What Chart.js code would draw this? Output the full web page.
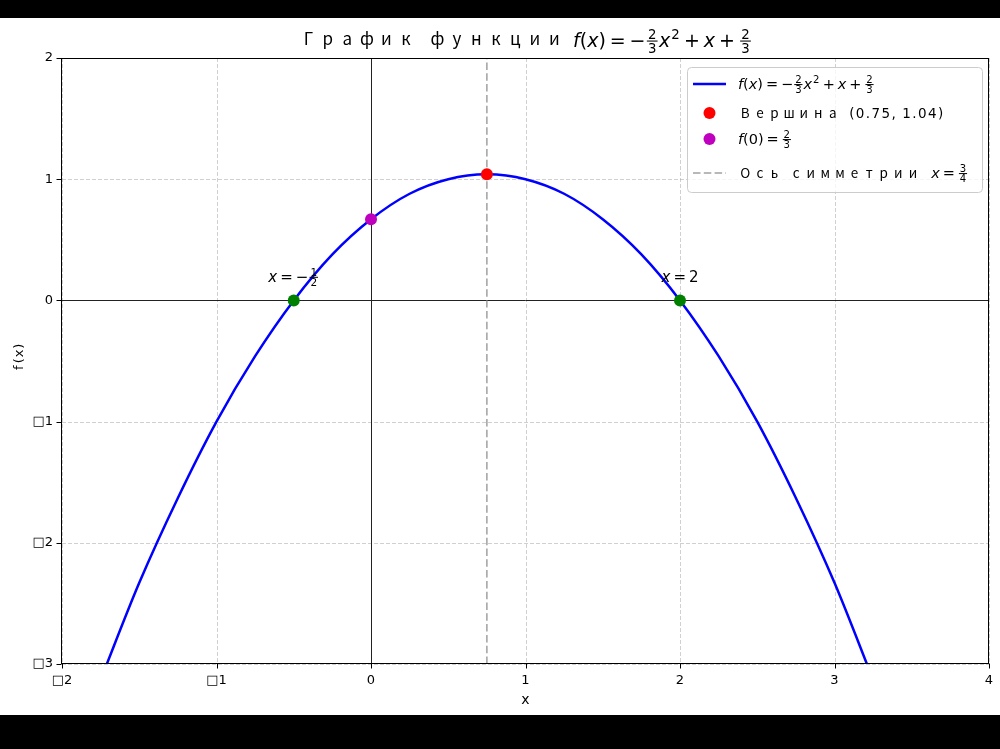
<!DOCTYPE html>
<html>
<head>
<meta charset="utf-8">
<script src="https://cdn.jsdelivr.net/npm/chart.js@4"></script>
<style>
    html, body { margin: 0; padding: 0; background: #000; }
    #wrap { position: absolute; left: 0; top: 18px; width: 1000px; height: 697px; background: #fff; }
</style>
</head>
<body>
<div id="wrap"><canvas id="chart" width="1000" height="697"></canvas></div>
<script>
// Values
const curveX = [-1.75, -1.5, -1.25, -1, -0.75, -0.5, -0.25, 0, 0.25, 0.5, 0.75, 1, 1.25, 1.5, 1.75, 2, 2.25, 2.5, 2.75, 3, 3.25];
const curveY = [-3.13, -2.33, -1.63, -1.0, -0.46, 0.0, 0.38, 0.67, 0.88, 1.0, 1.04, 1.0, 0.88, 0.67, 0.38, 0.0, -0.46, -1.0, -1.63, -2.33, -3.13];
const vertexX = [0.75];
const vertexY = [1.04];
const interceptX = [0];
const interceptY = [0.67];
const rootX = [-0.5, 2];
const rootY = [0, 0];
const symmetryX = [0.75, 0.75];
const symmetryY = [-3, 2];

const xTicks = [-2, -1, 0, 1, 2, 3, 4];
const xTickLabels = ['□2', '□1', '0', '1', '2', '3', '4'];
const yTicks = [-3, -2, -1, 0, 1, 2];
const yTickLabels = ['□3', '□2', '□1', '0', '1', '2'];

const titleText = 'График функции';
const vertexLabel = 'Вершина';
const vertexCoords = '(0.75, 1.04)';
const symmetryLabel = 'Ось симметрии';

const MATH_FONT = '"DejaVu Sans"';
const CJK_FONT = '"Noto Sans CJK SC"';
const GRID_COLOR = 'rgba(170,170,170,0.55)';
const SYM_COLOR = 'rgba(128,128,128,0.75)';

const toPoints = (xs, ys) => xs.map((x, i) => ({ x: x, y: ys[i] }));

// small mathtext-like renderer: text, italic, fractions, superscripts, gaps
function mathRun(ctx, tokens, x, y, size, draw) {
    let cx = x;
    tokens.forEach(tk => {
        if (tk.gap) { cx += tk.gap * size; return; }
        if (tk.frac) {
            const fs = size * 0.7;
            ctx.font = `${fs}px ${MATH_FONT}`;
            const wn = ctx.measureText(tk.frac[0]).width;
            const wd = ctx.measureText(tk.frac[1]).width;
            const pad = size * 0.08;
            const w = Math.max(wn, wd) + size * 0.12;
            if (draw) {
                const barY = y - size * 0.31;
                ctx.fillText(tk.frac[0], cx + pad + (w - wn) / 2, barY - size * 0.09);
                ctx.fillText(tk.frac[1], cx + pad + (w - wd) / 2, barY + size * 0.09 + fs * 0.73);
                ctx.fillRect(cx + pad, barY - size * 0.03, w, Math.max(1, size * 0.055));
            }
            cx += w + 2 * pad;
            return;
        }
        if (tk.sup) {
            const fs = size * 0.7;
            ctx.font = `${fs}px ${MATH_FONT}`;
            if (draw) ctx.fillText(tk.sup, cx + size * 0.05, y - size * 0.42);
            cx += ctx.measureText(tk.sup).width + size * 0.08;
            return;
        }
        ctx.font = `${tk.it ? 'italic ' : ''}${size}px ${MATH_FONT}`;
        if (draw) ctx.fillText(tk.t, cx, y);
        cx += ctx.measureText(tk.t).width;
    });
    return cx - x;
}

// Cyrillic drawn in full-width cells, the way the reference font lays it out
function spacedRun(ctx, str, x, y, cell, space, size, extra, draw) {
    let cx = x;
    for (const ch of str) {
        if (ch === ' ') { cx += space; continue; }
        if (/[\u0400-\u04FF]/.test(ch)) {
            ctx.font = `${size}px ${CJK_FONT}`;
            const w = ctx.measureText(ch).width;
            if (draw) ctx.fillText(ch, cx + (cell - w) / 2, y);
            cx += cell;
        } else {
            ctx.font = `${size}px ${MATH_FONT}`;
            if (draw) ctx.fillText(ch, cx, y);
            cx += ctx.measureText(ch).width + extra;
        }
    }
    return cx - x;
}

const OP = 0.2;
const fTokens = [
    { t: 'f', it: true }, { t: '(' }, { t: 'x', it: true }, { t: ')' },
    { gap: OP }, { t: '=' }, { gap: OP }, { t: '−' },
    { frac: ['2', '3'] }, { t: 'x', it: true }, { sup: '2' },
    { gap: OP }, { t: '+' }, { gap: OP }, { t: 'x', it: true },
    { gap: OP }, { t: '+' }, { gap: OP }, { frac: ['2', '3'] }
];
const f0Tokens = [
    { t: 'f', it: true }, { t: '(' }, { t: '0' }, { t: ')' },
    { gap: OP }, { t: '=' }, { gap: OP }, { frac: ['2', '3'] }
];
const symTokens = [{ t: 'x', it: true }, { gap: OP }, { t: '=' }, { gap: OP }, { frac: ['3', '4'] }];
const rootTokens = [
    [{ t: 'x', it: true }, { gap: OP }, { t: '=' }, { gap: OP }, { t: '−' }, { frac: ['1', '2'] }],
    [{ t: 'x', it: true }, { gap: OP }, { t: '=' }, { gap: OP }, { t: '2' }]
];

const decorPlugin = {
    id: 'decor',
    beforeDatasetsDraw(chart) {
        const { ctx, chartArea: a, scales: { x, y } } = chart;
        const px = v => Math.round(x.getPixelForValue(v)) + 0.5;
        const py = v => Math.round(y.getPixelForValue(v)) + 0.5;
        ctx.save();
        // dashed grid
        ctx.strokeStyle = GRID_COLOR;
        ctx.lineWidth = 1;
        ctx.setLineDash([4, 2]);
        ctx.beginPath();
        xTicks.forEach(v => { ctx.moveTo(px(v), a.top); ctx.lineTo(px(v), a.bottom); });
        yTicks.forEach(v => { ctx.moveTo(a.left, py(v)); ctx.lineTo(a.right, py(v)); });
        ctx.stroke();
        // x = 0 and y = 0 lines
        ctx.setLineDash([]);
        ctx.strokeStyle = '#222';
        ctx.beginPath();
        ctx.moveTo(px(0), a.top); ctx.lineTo(px(0), a.bottom);
        ctx.moveTo(a.left, py(0)); ctx.lineTo(a.right, py(0));
        ctx.stroke();
        ctx.restore();
    },
    afterDraw(chart) {
        const { ctx, chartArea: a, scales: { x, y } } = chart;
        const px = v => Math.round(x.getPixelForValue(v)) + 0.5;
        const py = v => Math.round(y.getPixelForValue(v)) + 0.5;
        ctx.save();

        // frame and tick marks
        ctx.strokeStyle = '#000';
        ctx.lineWidth = 1;
        const L = Math.round(a.left) - 0.5, R = Math.round(a.right) - 0.5;
        const T = Math.round(a.top) + 0.5, B = Math.round(a.bottom) - 0.5;
        ctx.strokeRect(L, T, R - L, B - T);
        ctx.beginPath();
        xTicks.forEach(v => { ctx.moveTo(px(v), B); ctx.lineTo(px(v), B + 5); });
        yTicks.forEach(v => { ctx.moveTo(L, py(v)); ctx.lineTo(L - 5, py(v)); });
        ctx.stroke();

        ctx.fillStyle = '#000';
        ctx.textBaseline = 'alphabetic';
        ctx.textAlign = 'left';

        // title
        const titleCell = 19.5, titleGap = 9;
        const wCyr = spacedRun(ctx, titleText, 0, 0, titleCell, 12, 17, 0, false);
        const wMath = mathRun(ctx, fTokens, 0, 0, 19, false);
        const tx = (a.left + a.right) / 2 - (wCyr + titleGap + wMath) / 2;
        spacedRun(ctx, titleText, tx, 27, titleCell, 12, 17, 0, true);
        mathRun(ctx, fTokens, tx + wCyr + titleGap, 29, 19, true);

        // axis titles
        ctx.font = `14px ${MATH_FONT}`;
        ctx.textAlign = 'center';
        ctx.fillText('x', (a.left + a.right) / 2, 686);
        ctx.save();
        ctx.translate(23, 339);
        ctx.rotate(-Math.PI / 2);
        ctx.font = `13px ${MATH_FONT}`;
        ['f', '(', 'x', ')'].forEach((ch, i) => ctx.fillText(ch, (i - 1.5) * 7.2, 0));
        ctx.restore();
        ctx.textAlign = 'left';

        // root annotations
        rootX.forEach((r, i) => {
            const cx = x.getPixelForValue(r), cy = y.getPixelForValue(rootY[i]);
            const w = mathRun(ctx, rootTokens[i], 0, 0, 15, false);
            mathRun(ctx, rootTokens[i], cx - w / 2, cy - 18.5, 15, true);
        });

        // legend
        const lx = 687, ly = 49, lw = 295, lh = 125;
        ctx.fillStyle = 'rgba(255,255,255,0.8)';
        ctx.strokeStyle = '#cccccc';
        ctx.beginPath();
        ctx.roundRect(lx + 0.5, ly + 0.5, lw, lh, 4);
        ctx.fill();
        ctx.stroke();
        ctx.fillStyle = '#000';
        const rows = [66, 95, 121, 155];
        const hx = 709.5, textX = 738, cell = 14.6;
        // row 1: curve
        ctx.strokeStyle = '#0000ff';
        ctx.lineWidth = 2.5;
        ctx.beginPath(); ctx.moveTo(693, rows[0]); ctx.lineTo(726, rows[0]); ctx.stroke();
        mathRun(ctx, fTokens, textX, rows[0] + 5, 14.5, true);
        // row 2: vertex
        ctx.fillStyle = 'red';
        ctx.beginPath(); ctx.arc(hx, rows[1], 6, 0, Math.PI * 2); ctx.fill();
        ctx.fillStyle = '#000';
        const wv = spacedRun(ctx, vertexLabel, textX, rows[1] + 5, cell, 7, 13.5, 0, true);
        spacedRun(ctx, vertexCoords, textX + wv + 9, rows[1] + 5, cell, 5, 13.5, 1.4, true);
        // row 3: f(0)
        ctx.fillStyle = '#bf00bf';
        ctx.beginPath(); ctx.arc(hx, rows[2], 6, 0, Math.PI * 2); ctx.fill();
        ctx.fillStyle = '#000';
        mathRun(ctx, f0Tokens, textX, rows[2] + 5, 14.5, true);
        // row 4: axis of symmetry
        ctx.strokeStyle = SYM_COLOR;
        ctx.lineWidth = 1.5;
        ctx.setLineDash([7.5, 3.3]);
        ctx.beginPath(); ctx.moveTo(693, rows[3]); ctx.lineTo(726, rows[3]); ctx.stroke();
        ctx.setLineDash([]);
        const ws = spacedRun(ctx, symmetryLabel, textX, rows[3] + 5, cell, 7, 13.5, 0, true);
        mathRun(ctx, symTokens, textX + ws + 11, rows[3] + 5, 14.5, true);

        ctx.restore();
    }
};

const ctx = document.getElementById('chart');
new Chart(ctx, {
    type: 'scatter',
    data: {
        datasets: [
            {
                label: 'f(x)',
                data: toPoints(curveX, curveY),
                showLine: true,
                borderColor: '#0000ff',
                borderWidth: 2.5,
                pointRadius: 0,
                cubicInterpolationMode: 'monotone',
                order: 5
            },
            {
                label: 'symmetry',
                data: toPoints(symmetryX, symmetryY),
                showLine: true,
                borderColor: SYM_COLOR,
                borderWidth: 1.5,
                borderDash: [7.5, 3.3],
                pointRadius: 0,
                order: 4
            },
            {
                label: 'vertex',
                data: toPoints(vertexX, vertexY),
                backgroundColor: '#ff0000',
                borderWidth: 0,
                pointRadius: 6,
                order: 1
            },
            {
                label: 'f(0)',
                data: toPoints(interceptX, interceptY),
                backgroundColor: '#bf00bf',
                borderWidth: 0,
                pointRadius: 6,
                order: 1
            },
            {
                label: 'roots',
                data: toPoints(rootX, rootY),
                backgroundColor: '#008000',
                borderWidth: 0,
                pointRadius: 6,
                order: 1
            }
        ]
    },
    options: {
        responsive: false,
        animation: false,
        events: [],
        layout: { padding: { top: 40, right: 11, left: 0, bottom: 0 } },
        plugins: {
            legend: { display: false },
            tooltip: { enabled: false },
            title: { display: false }
        },
        scales: {
            x: {
                type: 'linear',
                min: -2,
                max: 4,
                grid: { display: false, drawTicks: false },
                border: { display: false },
                afterBuildTicks: (s) => { s.ticks = xTicks.map(v => ({ value: v })); },
                afterFit: (s) => { s.height = 51; s.paddingLeft = 0; s.paddingRight = 0; },
                ticks: {
                    autoSkip: false,
                    maxRotation: 0,
                    padding: 9,
                    color: '#000',
                    font: { family: 'DejaVu Sans', size: 13 },
                    callback: (v) => xTickLabels[xTicks.indexOf(v)]
                }
            },
            y: {
                type: 'linear',
                min: -3,
                max: 2,
                grid: { display: false, drawTicks: false },
                border: { display: false },
                afterBuildTicks: (s) => { s.ticks = yTicks.map(v => ({ value: v })); },
                afterFit: (s) => { s.width = 62; s.paddingTop = 0; s.paddingBottom = 0; },
                ticks: {
                    autoSkip: false,
                    padding: 9,
                    color: '#000',
                    font: { family: 'DejaVu Sans', size: 13 },
                    callback: (v) => yTickLabels[yTicks.indexOf(v)]
                }
            }
        }
    },
    plugins: [decorPlugin]
});
</script>
</body>
</html>
